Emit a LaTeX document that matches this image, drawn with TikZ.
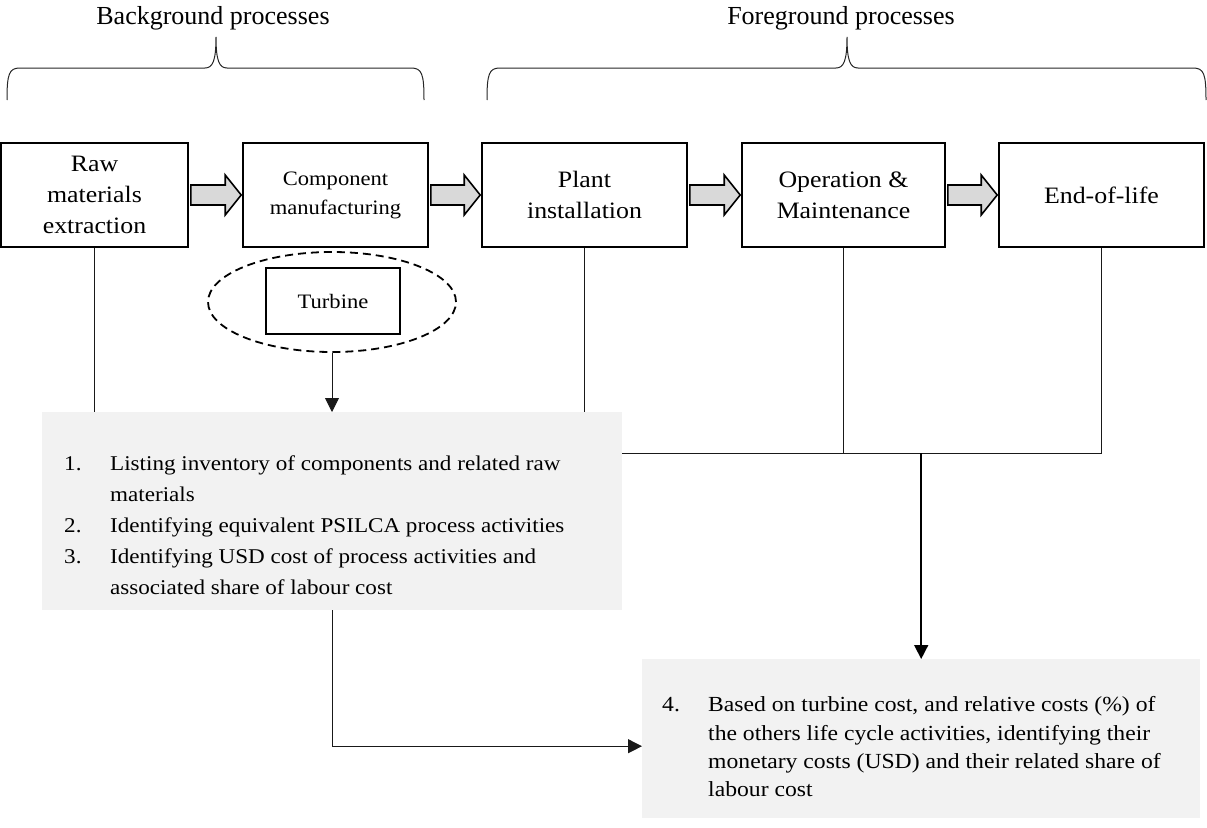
\documentclass[tikz,border=0pt]{standalone}
\usepackage{fontspec}
\setmainfont{Liberation Serif}
\newfontfamily\wfont{Liberation Serif}[FakeStretch=1.1]
\usetikzlibrary{shapes.geometric,arrows.meta,calc}
\definecolor{boxgray}{HTML}{F2F2F2}
\definecolor{arrgray}{HTML}{D9D9D9}
\tikzset{
  stage/.style={draw, line width=1.6pt, align=center, inner sep=0pt},
  bigtext/.style={font=\wfont\fontsize{23.5}{31}\selectfont},
  smalltext/.style={font=\wfont\fontsize{20.5}{29}\selectfont},
  listbox/.style={fill=boxgray, draw=none, inner sep=0pt, anchor=north west},
  conn/.style={line width=0.9pt, black!90},
  tipconn/.style={conn, -{Triangle[length=14pt,width=14pt]}},
  barrow/.style={draw, line width=1.6pt, fill=arrgray, line join=miter},
  brace/.style={line width=1pt, black!85},
  header/.style={font=\fontsize{26}{30}\selectfont, inner sep=0pt},
}
\newcommand\blockarr[2]{%
  \draw[barrow] let \p1=(#1.east), \p2=(#2.west) in
   (\x1+2,\y1+10) -- (\x2-17,\y1+10) -- (\x2-17,\y1+20) -- (\x2-1,\y1) --
   (\x2-17,\y1-20) -- (\x2-17,\y1-10) -- (\x1+2,\y1-10) -- cycle;}
\begin{document}
\begin{tikzpicture}[x=1pt,y=-1pt]
\useasboundingbox (0,0) rectangle (1207,827);

% headers
\node[header] (bg) at (213,18) {Background processes};
\node[header] (fg) at (841,18) {Foreground processes};

% braces
\draw[brace] (7,100) .. controls (7,74) and (9,68) .. (20,68) -- (205,68)
  .. controls (213,68) and (216,60) .. (216,37)
  .. controls (216,60) and (219,68) .. (227,68) -- (411,68)
  .. controls (422,68) and (424,74) .. (424,100);
\draw[brace] (487,100) .. controls (487,74) and (489,68) .. (500,68) -- (836,68)
  .. controls (844,68) and (847,60) .. (847,37)
  .. controls (847,60) and (850,68) .. (858,68) -- (1193,68)
  .. controls (1204,68) and (1206,74) .. (1206,100);

% stages
\node[stage, bigtext, minimum width=187pt, minimum height=104pt] (raw) at (94.5,195) {Raw\\materials\\extraction};
\node[stage, smalltext, minimum width=185pt, minimum height=104pt] (comp) at (335.5,195) {Component\\manufacturing};
\node[stage, bigtext, minimum width=205pt, minimum height=104pt] (plant) at (584.5,195) {Plant\\installation};
\node[stage, bigtext, minimum width=203pt, minimum height=104pt] (op) at (843.5,195) {Operation \&\\Maintenance};
\node[stage, bigtext, minimum width=205pt, minimum height=104pt] (eol) at (1101.5,195) {End-of-life};

\blockarr{raw}{comp}
\blockarr{comp}{plant}
\blockarr{plant}{op}
\blockarr{op}{eol}

% turbine
\node[ellipse, draw, line width=1.8pt, dash pattern=on 8pt off 5pt, minimum width=248pt, minimum height=100pt, inner sep=0pt] (turbell) at (332,302) {};
\node[stage, smalltext, minimum width=134pt, minimum height=66pt] (turbine) at (333,301) {Turbine};

% list boxes
\node[listbox, minimum width=580pt, minimum height=198pt] (list1) at (42,412) {};
\node[listbox, minimum width=558pt, minimum height=159pt] (list2) at (642,659) {};

\node[anchor=base west, inner sep=0pt, font=\wfont\fontsize{21}{31}\selectfont] (t1) at (64,470) {%
\begin{tabular}[t]{@{}p{46pt}@{}l@{}}
1. & Listing inventory of components and related raw\\
   & materials\\
2. & Identifying equivalent PSILCA process activities\\
3. & Identifying USD cost of process activities and\\
   & associated share of labour cost
\end{tabular}};

\node[anchor=base west, inner sep=0pt, font=\wfont\fontsize{21.5}{28.4}\selectfont] (t2) at (662,711.7) {%
\begin{tabular}[t]{@{}p{46pt}@{}l@{}}
4. & Based on turbine cost, and relative costs (\%) of\\
   & the others life cycle activities, identifying their\\
   & monetary costs (USD) and their related share of\\
   & labour cost
\end{tabular}};

% connectors
\coordinate (j) at (923,453);
\draw[conn] (raw.south) -- (raw.south |- list1.north);
\draw[conn] (plant.south) -- (plant.south |- list1.north);
\draw[tipconn] (turbell.south) -- (turbell.south |- list1.north);
\draw[conn] (op.south) -- (op.south |- j);
\draw[conn] (eol.south) -- (eol.south |- j);
\draw[conn] (list1.east |- j) -- (eol.south |- j);
\draw[tipconn, line width=1.6pt, black] (list2.north |- j) -- (list2.north);
\draw[tipconn] (list1.south) |- ([yshift=-7.5pt]list2.west);
\end{tikzpicture}
\end{document}
